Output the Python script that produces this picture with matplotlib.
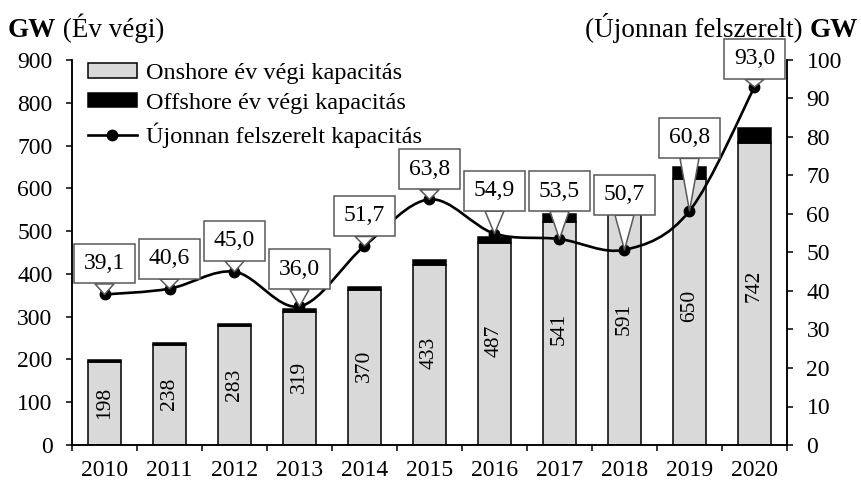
import numpy as np
import matplotlib
matplotlib.use("Agg")
import matplotlib.pyplot as plt
from matplotlib.path import Path
from matplotlib.patches import Patch, PathPatch
from matplotlib.lines import Line2D

plt.rcParams['font.family'] = ['Liberation Serif', 'DejaVu Serif']

years = ['2010', '2011', '2012', '2013', '2014', '2015', '2016', '2017', '2018', '2019', '2020']
total = [198, 238, 283, 319, 370, 433, 487, 541, 591, 650, 742]
offshore = [3.1, 4.1, 5.4, 7.0, 8.7, 12.1, 14.4, 18.8, 23.1, 29.1, 35.3]
new_cap = [39.1, 40.6, 45.0, 36.0, 51.7, 63.8, 54.9, 53.5, 50.7, 60.8, 93.0]
new_labels = ['39,1', '40,6', '45,0', '36,0', '51,7', '63,8', '54,9', '53,5', '50,7', '60,8', '93,0']

# label box offsets above the points (pixels)
lab_dy = [31, 30, 31, 37, 30, 30, 43, 48, 55, 73, 28]

onshore = [t - o for t, o in zip(total, offshore)]
x = np.arange(len(years))

fig = plt.figure(figsize=(8.61, 4.84), dpi=100)
ax = fig.add_axes([72 / 861, 1 - 445 / 484, (787 - 72) / 861, (445 - 60) / 484])
ax2 = ax.twinx()

grey = '#d9d9d9'
ax.bar(x, onshore, width=0.5, color=grey, edgecolor='black', linewidth=1.1, zorder=2)
ax.bar(x, offshore, width=0.5, bottom=onshore, color='black', edgecolor='black', linewidth=1.1, zorder=2)
for xi, t in zip(x, total):
    ax.text(xi, t / 2, str(t), rotation=90, ha='center', va='center', fontsize=15.5, zorder=3)

ax.set_xlim(-0.5, len(years) - 0.5)
ax.set_ylim(0, 900)
ax.set_yticks(range(0, 901, 100))
ax.set_xticks(x)
ax.set_xticklabels(years)
ax.set_xticks(np.arange(-0.5, len(years), 1), minor=True)
ax.tick_params(axis='x', which='major', length=0, pad=11, labelsize=17)
ax.tick_params(axis='x', which='minor', length=4, width=1.1, direction='out')
ax.tick_params(axis='y', length=4, width=1.1, pad=10, labelsize=17)

ax2.set_ylim(0, 100)
ax2.set_yticks(range(0, 101, 10))
ax2.tick_params(axis='y', length=4, width=1.1, pad=10, labelsize=17)

for a in (ax, ax2):
    a.spines['top'].set_visible(False)
    for s in ('left', 'right', 'bottom'):
        a.spines[s].set_linewidth(1.1)

# smoothed line (Excel style bezier)
pts = np.column_stack([x, new_cap]).astype(float)
verts = [pts[0]]
codes = [Path.MOVETO]
n = len(pts)
for i in range(n - 1):
    p0 = pts[max(i - 1, 0)]
    p1 = pts[i]
    p2 = pts[i + 1]
    p3 = pts[min(i + 2, n - 1)]
    c1 = p1 + (p2 - p0) / 6
    c2 = p2 - (p3 - p1) / 6
    verts += [c1, c2, p2]
    codes += [Path.CURVE4] * 3
ax2.add_patch(PathPatch(Path(verts, codes), fill=False, edgecolor='black', linewidth=1.9, zorder=4))
ax2.plot(x, new_cap, linestyle='none', marker='o', markersize=7.5, color='black', zorder=5)

for xi, v, lab, dy in zip(x, new_cap, new_labels, lab_dy):
    ax2.annotate(lab, xy=(xi, v), xytext=(0, dy * 0.72), textcoords='offset points',
                 ha='center', va='center', fontsize=17, zorder=6,
                 bbox=dict(boxstyle='square,pad=0.4', fc='white', ec='#595959', lw=1.1),
                 arrowprops=dict(arrowstyle='wedge,tail_width=0.8,shrink_factor=0.5',
                                 fc='white', ec='#595959', lw=1.1,
                                 shrinkA=0, shrinkB=0),
                 annotation_clip=False)

handles = [Patch(facecolor=grey, edgecolor='black', linewidth=1.1),
           Patch(facecolor='black', edgecolor='black', linewidth=1.1),
           Line2D([], [], color='black', linewidth=1.9, marker='o', markersize=7.5)]
labels = ['Onshore év végi kapacitás', 'Offshore év végi kapacitás', 'Újonnan felszerelt kapacitás']
leg = ax2.legend(handles, labels, loc='upper left', bbox_to_anchor=(88 / 861, 1 - 63 / 484),
                 bbox_transform=fig.transFigure, frameon=False, fontsize=17.5,
                 handlelength=2.0, handleheight=0.55, handletextpad=0.4, labelspacing=0.36,
                 borderpad=0, borderaxespad=0)
leg.set_zorder(7)

t1 = fig.text(8 / 861, 1 - 37 / 484, 'GW', fontsize=19.5, fontweight='bold', ha='left', va='baseline')
ax.annotate(' (Év végi)', xy=(1, 0), xycoords=t1, ha='left', va='bottom', fontsize=19.5)
t2 = fig.text(858 / 861, 1 - 37 / 484, 'GW', fontsize=19.5, fontweight='bold', ha='right', va='baseline')
ax.annotate('(Újonnan felszerelt) ', xy=(0, 0), xycoords=t2, ha='right', va='bottom', fontsize=19.5)

fig.savefig('out.png', dpi=100)
